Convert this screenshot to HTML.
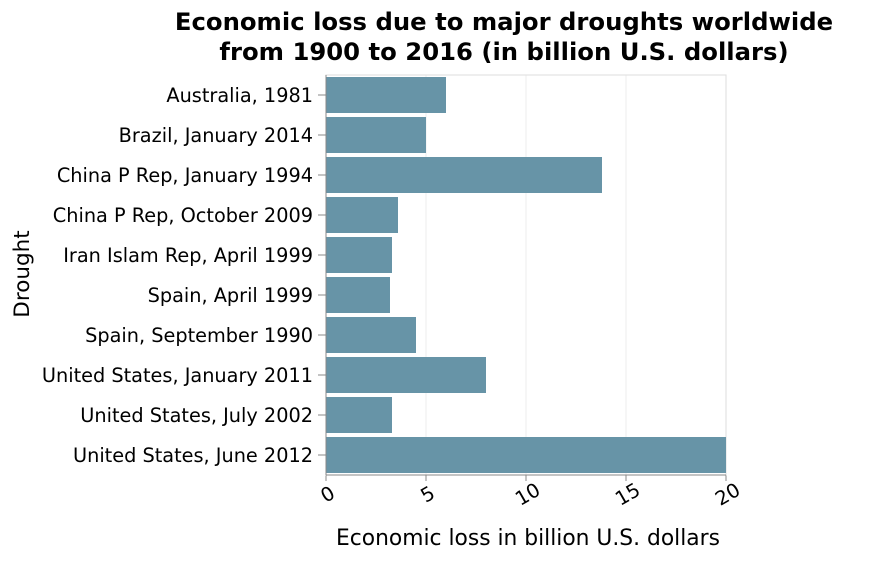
<!DOCTYPE html>
<html><head><meta charset="utf-8"><style>
body{margin:0;background:#fff;}
svg{font-family:"DejaVu Sans","Liberation Sans",sans-serif;}
</style></head><body>
<svg id="c" width="888" height="558">
<text x="504" y="30" text-anchor="middle" font-size="24.3" font-weight="bold">Economic loss due to major droughts worldwide</text>
<text x="504" y="60" text-anchor="middle" font-size="24.3" font-weight="bold">from 1900 to 2016 (in billion U.S. dollars)</text>
<text x="528" y="545" text-anchor="middle" font-size="21.8">Economic loss in billion U.S. dollars</text>
<text transform="translate(29,274) rotate(-90)" text-anchor="middle" font-size="21.5">Drought</text>
<g id="g"></g>
</svg>
<script>
const categories=["Australia, 1981","Brazil, January 2014","China P Rep, January 1994","China P Rep, October 2009","Iran Islam Rep, April 1999","Spain, April 1999","Spain, September 1990","United States, January 2011","United States, July 2002","United States, June 2012"];
const values=[6.0,5.0,13.8,3.6,3.3,3.2,4.5,8.0,3.3,20];
const xTicks=[0,5,10,15,20];
const NS="http://www.w3.org/2000/svg";
const g=document.getElementById('g');
const X0=326,X1=726,Y0=75,Y1=475,max=20;
const xs=v=>X0+(X1-X0)*v/max;
const band=(Y1-Y0)/categories.length;
function mk(t,a){const e=document.createElementNS(NS,t);for(const k in a)e.setAttribute(k,a[k]);g.appendChild(e);return e;}
xTicks.forEach(t=>{
 const l=mk('line',{x1:xs(t),x2:xs(t),y1:Y0,y2:Y1,stroke:'#eee'});
 
 
 const tk=mk('line',{x1:xs(t),x2:xs(t),y1:Y1,y2:Y1+6,stroke:'#888'});
 
 
 const tx=mk('text',{x:0,y:0,'font-size':19.5,'text-anchor':'middle',transform:`translate(${xs(t)+5},${Y1+25}) rotate(-30)`});
 tx.textContent=t;
 
 
});
mk('rect',{x:X0,y:Y0,width:X1-X0,height:Y1-Y0,fill:'none',stroke:'#ddd'});
categories.forEach((c,i)=>{
 const cy=Y0+band*i+band/2;
 const r=mk('rect',{x:X0,y:cy-18,width:xs(values[i])-X0,height:36,fill:'#6794a7'});
 
 
 const tk=mk('line',{x1:X0-8,x2:X0,y1:cy,y2:cy,stroke:'#888'});
 
 
 const tx=mk('text',{x:X0-13,y:cy+7,'font-size':19.3,'text-anchor':'end'});
 tx.textContent=c;
 
 
});
mk('line',{x1:X0,x2:X1,y1:Y1,y2:Y1,stroke:'#888'});
mk('line',{x1:X0,x2:X0,y1:Y0,y2:Y1,stroke:'#888'});
</script>
</body></html>
